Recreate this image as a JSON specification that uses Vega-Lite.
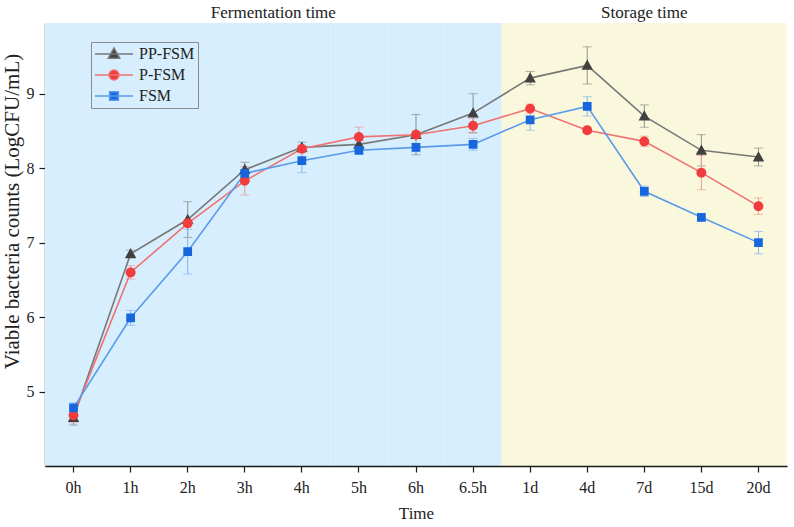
{
  "$schema": "https://vega.github.io/schema/vega-lite/v6.json",
  "width": 742,
  "height": 443,
  "autosize": {"type": "none"},
  "padding": {"left": 45, "top": 23, "right": 7, "bottom": 61},
  "background": "white",
  "config": {
    "view": {"stroke": null},
    "font": "Liberation Serif",
    "axis": {
      "domainColor": "#1a1a1a",
      "domainWidth": 1.3,
      "tickColor": "#1a1a1a",
      "tickWidth": 1.2,
      "tickSize": 6,
      "labelColor": "#222222",
      "labelFont": "Liberation Serif",
      "labelFontSize": 16,
      "titleColor": "#222222",
      "titleFont": "Liberation Serif",
      "titleFontWeight": "normal",
      "grid": false
    },
    "axisY": {"titleFontSize": 21, "titleY": 188, "titlePadding": 4, "labelPadding": 5},
    "axisX": {"titleFontSize": 17, "labelPadding": 7, "titlePadding": 10, "labelAngle": 0}
  },
  "datasets": {
    "bands": [
      {"time": "0h", "phase": "Fermentation time"},
      {"time": "1h", "phase": "Fermentation time"},
      {"time": "2h", "phase": "Fermentation time"},
      {"time": "3h", "phase": "Fermentation time"},
      {"time": "4h", "phase": "Fermentation time"},
      {"time": "5h", "phase": "Fermentation time"},
      {"time": "6h", "phase": "Fermentation time"},
      {"time": "6.5h", "phase": "Fermentation time"},
      {"time": "1d", "phase": "Storage time"},
      {"time": "4d", "phase": "Storage time"},
      {"time": "7d", "phase": "Storage time"},
      {"time": "15d", "phase": "Storage time"},
      {"time": "20d", "phase": "Storage time"}
    ],
    "phaseLabels": [
      {"phase": "Fermentation time", "time": "3h"},
      {"phase": "Storage time", "time": "7d"}
    ],
    "obs": [
      {"time": "0h", "series": "PP-FSM", "value": 4.65, "err": 0.10},
      {"time": "1h", "series": "PP-FSM", "value": 6.85, "err": 0.05},
      {"time": "2h", "series": "PP-FSM", "value": 7.31, "err": 0.24},
      {"time": "3h", "series": "PP-FSM", "value": 7.98, "err": 0.10},
      {"time": "4h", "series": "PP-FSM", "value": 8.28, "err": 0.07},
      {"time": "5h", "series": "PP-FSM", "value": 8.32, "err": 0.05},
      {"time": "6h", "series": "PP-FSM", "value": 8.45, "err": 0.27},
      {"time": "6.5h", "series": "PP-FSM", "value": 8.74, "err": 0.26},
      {"time": "1d", "series": "PP-FSM", "value": 9.21, "err": 0.09},
      {"time": "4d", "series": "PP-FSM", "value": 9.38, "err": 0.25},
      {"time": "7d", "series": "PP-FSM", "value": 8.70, "err": 0.15},
      {"time": "15d", "series": "PP-FSM", "value": 8.24, "err": 0.21},
      {"time": "20d", "series": "PP-FSM", "value": 8.15, "err": 0.12},
      {"time": "0h", "series": "P-FSM", "value": 4.68, "err": 0.10},
      {"time": "1h", "series": "P-FSM", "value": 6.60, "err": 0.09},
      {"time": "2h", "series": "P-FSM", "value": 7.26, "err": 0.05},
      {"time": "3h", "series": "P-FSM", "value": 7.83, "err": 0.19},
      {"time": "4h", "series": "P-FSM", "value": 8.26, "err": 0.05},
      {"time": "5h", "series": "P-FSM", "value": 8.42, "err": 0.13},
      {"time": "6h", "series": "P-FSM", "value": 8.45, "err": 0.05},
      {"time": "6.5h", "series": "P-FSM", "value": 8.57, "err": 0.10},
      {"time": "1d", "series": "P-FSM", "value": 8.80, "err": 0.06},
      {"time": "4d", "series": "P-FSM", "value": 8.51, "err": 0.04},
      {"time": "7d", "series": "P-FSM", "value": 8.36, "err": 0.07},
      {"time": "15d", "series": "P-FSM", "value": 7.94, "err": 0.23},
      {"time": "20d", "series": "P-FSM", "value": 7.49, "err": 0.11},
      {"time": "0h", "series": "FSM", "value": 4.78, "err": 0.07},
      {"time": "1h", "series": "FSM", "value": 5.99, "err": 0.10},
      {"time": "2h", "series": "FSM", "value": 6.88, "err": 0.30},
      {"time": "3h", "series": "FSM", "value": 7.93, "err": 0.05},
      {"time": "4h", "series": "FSM", "value": 8.10, "err": 0.16},
      {"time": "5h", "series": "FSM", "value": 8.24, "err": 0.04},
      {"time": "6h", "series": "FSM", "value": 8.28, "err": 0.05},
      {"time": "6.5h", "series": "FSM", "value": 8.32, "err": 0.08},
      {"time": "1d", "series": "FSM", "value": 8.65, "err": 0.14},
      {"time": "4d", "series": "FSM", "value": 8.83, "err": 0.13},
      {"time": "7d", "series": "FSM", "value": 7.69, "err": 0.07},
      {"time": "15d", "series": "FSM", "value": 7.34, "err": 0.05},
      {"time": "20d", "series": "FSM", "value": 7.00, "err": 0.15}
    ]
  },
  "layer": [
    {
      "data": {"name": "bands"},
      "mark": {"type": "rect"},
      "encoding": {
        "x": {
          "field": "time", "type": "ordinal", "title": "Time",
          "scale": {"type": "band", "domain": ["0h", "1h", "2h", "3h", "4h", "5h", "6h", "6.5h", "1d", "4d", "7d", "15d", "20d"], "paddingInner": 0, "paddingOuter": 0}
        },
        "y": {"value": 0},
        "y2": {"value": "height"},
        "color": {"field": "phase", "type": "nominal", "scale": {"domain": ["Fermentation time", "Storage time"], "range": ["#D6EEFD", "#FAF8DC"]}, "legend": null}
      }
    },
    {
      "data": {"name": "phaseLabels"},
      "transform": [{"filter": "datum.phase === 'Fermentation time'"}],
      "mark": {"type": "text", "font": "Liberation Serif", "fontSize": 17, "color": "#222222", "baseline": "middle", "align": "center"},
      "encoding": {
        "x": {"field": "time", "type": "ordinal", "title": "Time", "bandPosition": 1},
        "y": {"value": -10},
        "text": {"field": "phase"}
      }
    },
    {
      "data": {"name": "phaseLabels"},
      "transform": [{"filter": "datum.phase === 'Storage time'"}],
      "mark": {"type": "text", "font": "Liberation Serif", "fontSize": 17, "color": "#222222", "baseline": "middle", "align": "center"},
      "encoding": {
        "x": {"field": "time", "type": "ordinal", "title": "Time", "bandPosition": 0.5},
        "y": {"value": -10},
        "text": {"field": "phase"}
      }
    },
    {
      "data": {"name": "obs"},
      "mark": {"type": "errorbar", "ticks": {"size": 9, "thickness": 1}, "thickness": 1},
      "encoding": {
        "x": {"field": "time", "type": "ordinal", "title": "Time"},
        "y": {
          "field": "value", "type": "quantitative", "title": "Viable bacteria counts (LogCFU/mL)",
          "scale": {"domain": [4, 9.95], "nice": false, "zero": false},
          "axis": {"values": [5, 6, 7, 8, 9], "format": "d"}
        },
        "yError": {"field": "err"},
        "color": {"field": "series", "type": "nominal", "scale": {"domain": ["PP-FSM", "P-FSM", "FSM"], "range": ["#8f8f8f", "#F29A9A", "#88B4EE"]}, "legend": null}
      }
    },
    {
      "data": {"name": "obs"},
      "mark": {"type": "line", "strokeWidth": 1.6},
      "encoding": {
        "x": {"field": "time", "type": "ordinal", "title": "Time"},
        "y": {"field": "value", "type": "quantitative", "title": "Viable bacteria counts (LogCFU/mL)"},
        "stroke": {"field": "series", "type": "nominal", "scale": {"domain": ["PP-FSM", "P-FSM", "FSM"], "range": ["#777777", "#F07272", "#5A9AEA"]}}
      }
    },
    {
      "data": {"name": "obs"},
      "mark": {"type": "point", "filled": true, "size": 1444, "opacity": 1},
      "encoding": {
        "x": {"field": "time", "type": "ordinal", "title": "Time"},
        "y": {"field": "value", "type": "quantitative", "title": "Viable bacteria counts (LogCFU/mL)"},
        "fill": {"field": "series", "type": "nominal", "scale": {"domain": ["PP-FSM", "P-FSM", "FSM"], "range": ["#404040", "#F03C3C", "#1766DD"]}},
        "shape": {
          "field": "series", "type": "nominal",
          "scale": {
            "domain": ["PP-FSM", "P-FSM", "FSM"],
            "range": [
              "M-1,0H1M0,-0.31L0.3,0.23H-0.3Z",
              "M-1,0H1M0.26,0A0.26,0.26,0,1,1,-0.26,0A0.26,0.26,0,1,1,0.26,0Z",
              "M-1,0H1M-0.23,-0.23H0.23V0.23H-0.23Z"
            ]
          },
          "legend": {
            "title": null,
            "orient": "none",
            "legendX": 46,
            "legendY": 19,
            "strokeColor": "#8c8c8c",
            "padding": 3,
            "labelFont": "Liberation Serif",
            "labelFontSize": 16,
            "labelColor": "#222222",
            "labelOffset": 5,
            "rowPadding": 3,
            "clipHeight": 18,
            "symbolSize": 1444,
            "symbolStrokeWidth": 1.5,
            "symbolOpacity": 1
          }
        }
      }
    }
  ],
  "resolve": {"scale": {"color": "independent"}}
}
